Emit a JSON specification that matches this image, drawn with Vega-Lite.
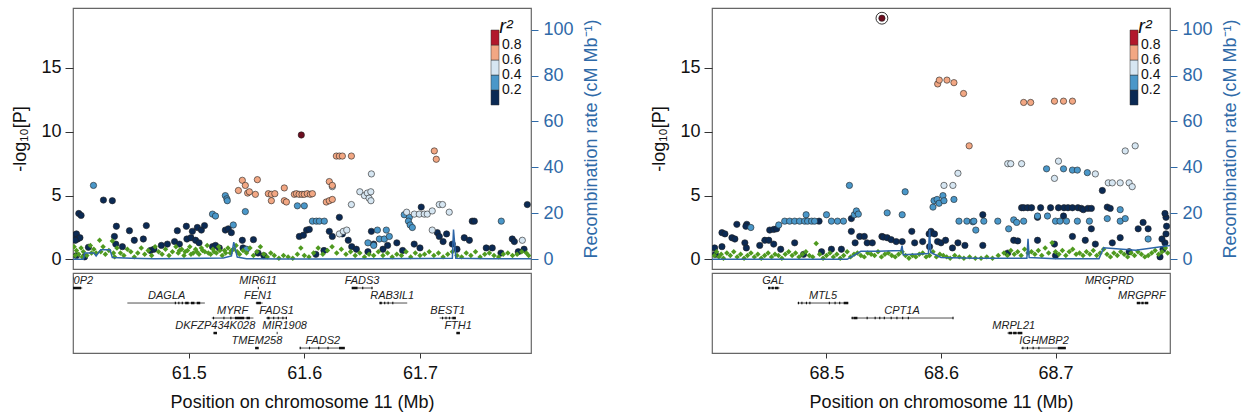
{
"$schema": "https://vega.github.io/schema/vega-lite/v6.json",
"padding": {"left": 11, "top": 7, "right": 5, "bottom": 5},
"config": {
  "font": "Liberation Sans",
  "view": {"stroke": "#666", "strokeWidth": 1.2},
  "axis": {"labelFont": "Liberation Sans", "titleFont": "Liberation Sans", "labelFontSize": 18, "titleFontSize": 18, "titleFontWeight": "normal", "grid": false, "labelColor": "#111", "titleColor": "#111", "tickColor": "#333", "domain": false}
},
"datasets": {
"ptsL": [
{"pos":61.401,"logp":1.9,"r2":0.1},{"pos":61.403,"logp":2.0,"r2":0.1},{"pos":61.404,"logp":1.6,"r2":0.1},{"pos":61.406,"logp":1.7,"r2":0.1},{"pos":61.402,"logp":1.5,"r2":0.1},{"pos":61.405,"logp":3.6,"r2":0.1},{"pos":61.407,"logp":3.45,"r2":0.1},{"pos":61.41,"logp":0.2,"r2":0.1},{"pos":61.4133,"logp":0.95,"r2":0.1},{"pos":61.403,"logp":0.3,"r2":0.1},{"pos":61.4263,"logp":4.65,"r2":0.1},{"pos":61.434,"logp":4.6,"r2":0.1},{"pos":61.4375,"logp":2.6,"r2":0.1},{"pos":61.4358,"logp":1.8,"r2":0.1},{"pos":61.437,"logp":1.2,"r2":0.1},{"pos":61.4427,"logp":1.0,"r2":0.1},{"pos":61.4488,"logp":2.25,"r2":0.1},{"pos":61.453,"logp":1.5,"r2":0.1},{"pos":61.4634,"logp":2.65,"r2":0.1},{"pos":61.4608,"logp":1.6,"r2":0.1},{"pos":61.467,"logp":0.7,"r2":0.1},{"pos":61.47,"logp":0.8,"r2":0.1},{"pos":61.4764,"logp":1.1,"r2":0.1},{"pos":61.4816,"logp":1.2,"r2":0.1},{"pos":61.4902,"logp":2.25,"r2":0.1},{"pos":61.498,"logp":2.6,"r2":0.1},{"pos":61.5032,"logp":2.2,"r2":0.1},{"pos":61.5075,"logp":2.5,"r2":0.1},{"pos":61.511,"logp":2.3,"r2":0.1},{"pos":61.5137,"logp":2.65,"r2":0.1},{"pos":61.4878,"logp":1.4,"r2":0.1},{"pos":61.492,"logp":1.2,"r2":0.1},{"pos":61.4985,"logp":1.6,"r2":0.1},{"pos":61.502,"logp":1.7,"r2":0.1},{"pos":61.506,"logp":1.5,"r2":0.1},{"pos":61.509,"logp":1.3,"r2":0.1},{"pos":61.5206,"logp":1.0,"r2":0.1},{"pos":61.5232,"logp":1.1,"r2":0.1},{"pos":61.5265,"logp":0.9,"r2":0.1},{"pos":61.5317,"logp":2.3,"r2":0.1},{"pos":61.5343,"logp":2.4,"r2":0.1},{"pos":61.5369,"logp":2.1,"r2":0.1},{"pos":61.5464,"logp":1.5,"r2":0.1},{"pos":61.547,"logp":0.9,"r2":0.1},{"pos":61.556,"logp":1.55,"r2":0.1},{"pos":61.56,"logp":0.5,"r2":0.1},{"pos":61.565,"logp":0.3,"r2":0.1},{"pos":61.5957,"logp":1.8,"r2":0.1},{"pos":61.5992,"logp":1.9,"r2":0.1},{"pos":61.602,"logp":2.3,"r2":0.1},{"pos":61.6043,"logp":2.35,"r2":0.1},{"pos":61.6216,"logp":2.2,"r2":0.1},{"pos":61.6242,"logp":1.8,"r2":0.1},{"pos":61.6303,"logp":3.3,"r2":0.1},{"pos":61.6329,"logp":2.0,"r2":0.1},{"pos":61.638,"logp":1.5,"r2":0.1},{"pos":61.641,"logp":1.0,"r2":0.1},{"pos":61.645,"logp":0.8,"r2":0.1},{"pos":61.658,"logp":2.2,"r2":0.1},{"pos":61.66,"logp":1.2,"r2":0.1},{"pos":61.655,"logp":0.6,"r2":0.1},{"pos":61.668,"logp":0.8,"r2":0.1},{"pos":61.672,"logp":1.1,"r2":0.1},{"pos":61.68,"logp":1.3,"r2":0.1},{"pos":61.685,"logp":0.7,"r2":0.1},{"pos":61.7011,"logp":4.1,"r2":0.1},{"pos":61.695,"logp":1.2,"r2":0.1},{"pos":61.7,"logp":0.9,"r2":0.1},{"pos":61.715,"logp":2.1,"r2":0.1},{"pos":61.7167,"logp":1.8,"r2":0.1},{"pos":61.72,"logp":1.4,"r2":0.1},{"pos":61.723,"logp":2.0,"r2":0.1},{"pos":61.728,"logp":1.2,"r2":0.1},{"pos":61.732,"logp":0.8,"r2":0.1},{"pos":61.7383,"logp":1.7,"r2":0.1},{"pos":61.7427,"logp":1.5,"r2":0.1},{"pos":61.7452,"logp":3.0,"r2":0.1},{"pos":61.747,"logp":3.0,"r2":0.1},{"pos":61.7573,"logp":0.9,"r2":0.1},{"pos":61.7625,"logp":0.9,"r2":0.1},{"pos":61.7798,"logp":1.6,"r2":0.1},{"pos":61.7816,"logp":1.4,"r2":0.1},{"pos":61.7928,"logp":4.3,"r2":0.1},{"pos":61.77,"logp":0.5,"r2":0.1},{"pos":61.785,"logp":0.6,"r2":0.1},{"pos":61.79,"logp":0.8,"r2":0.1},{"pos":61.61,"logp":0.4,"r2":0.1},{"pos":61.617,"logp":0.7,"r2":0.1},
{"pos":61.4177,"logp":5.8,"r2":0.3},{"pos":61.5206,"logp":3.55,"r2":0.3},{"pos":61.5232,"logp":3.4,"r2":0.3},{"pos":61.5317,"logp":5.0,"r2":0.3},{"pos":61.533,"logp":4.75,"r2":0.3},{"pos":61.5334,"logp":4.6,"r2":0.3},{"pos":61.5386,"logp":2.7,"r2":0.3},{"pos":61.549,"logp":3.75,"r2":0.3},{"pos":61.55,"logp":0.8,"r2":0.3},{"pos":61.594,"logp":4.2,"r2":0.3},{"pos":61.6,"logp":4.2,"r2":0.3},{"pos":61.607,"logp":3.0,"r2":0.3},{"pos":61.6104,"logp":3.0,"r2":0.3},{"pos":61.613,"logp":3.0,"r2":0.3},{"pos":61.6173,"logp":3.0,"r2":0.3},{"pos":61.6632,"logp":2.3,"r2":0.3},{"pos":61.6709,"logp":2.3,"r2":0.3},{"pos":61.6649,"logp":1.6,"r2":0.3},{"pos":61.6692,"logp":1.6,"r2":0.3},{"pos":61.6735,"logp":1.8,"r2":0.3},{"pos":61.6864,"logp":3.5,"r2":0.3},{"pos":61.6908,"logp":3.3,"r2":0.3},{"pos":61.69,"logp":3.0,"r2":0.3},{"pos":61.6915,"logp":2.7,"r2":0.3},{"pos":61.6934,"logp":2.5,"r2":0.3},{"pos":61.7703,"logp":3.0,"r2":0.3},{"pos":61.655,"logp":1.3,"r2":0.3},{"pos":61.66,"logp":1.1,"r2":0.3},
{"pos":61.6242,"logp":5.7,"r2":0.5},{"pos":61.6407,"logp":4.3,"r2":0.5},{"pos":61.658,"logp":6.7,"r2":0.5},{"pos":61.648,"logp":5.3,"r2":0.5},{"pos":61.652,"logp":5.0,"r2":0.5},{"pos":61.6545,"logp":5.2,"r2":0.5},{"pos":61.656,"logp":4.8,"r2":0.5},{"pos":61.6576,"logp":4.6,"r2":0.5},{"pos":61.6575,"logp":5.3,"r2":0.5},{"pos":61.6303,"logp":2.0,"r2":0.5},{"pos":61.6337,"logp":2.2,"r2":0.5},{"pos":61.6367,"logp":2.3,"r2":0.5},{"pos":61.6885,"logp":3.7,"r2":0.5},{"pos":61.6951,"logp":3.55,"r2":0.5},{"pos":61.6994,"logp":3.55,"r2":0.5},{"pos":61.7037,"logp":3.55,"r2":0.5},{"pos":61.7063,"logp":3.55,"r2":0.5},{"pos":61.7106,"logp":3.8,"r2":0.5},{"pos":61.7167,"logp":4.3,"r2":0.5},{"pos":61.7195,"logp":4.3,"r2":0.5},{"pos":61.7253,"logp":3.7,"r2":0.5},{"pos":61.7106,"logp":2.3,"r2":0.5},{"pos":61.7885,"logp":1.5,"r2":0.5},
{"pos":61.543,"logp":5.4,"r2":0.7},{"pos":61.5464,"logp":6.2,"r2":0.7},{"pos":61.549,"logp":5.8,"r2":0.7},{"pos":61.551,"logp":5.2,"r2":0.7},{"pos":61.5525,"logp":5.3,"r2":0.7},{"pos":61.5577,"logp":5.1,"r2":0.7},{"pos":61.5594,"logp":6.25,"r2":0.7},{"pos":61.5689,"logp":5.15,"r2":0.7},{"pos":61.5715,"logp":5.1,"r2":0.7},{"pos":61.5745,"logp":5.15,"r2":0.7},{"pos":61.5715,"logp":4.6,"r2":0.7},{"pos":61.5827,"logp":4.6,"r2":0.7},{"pos":61.5845,"logp":4.5,"r2":0.7},{"pos":61.5827,"logp":5.6,"r2":0.7},{"pos":61.5914,"logp":5.1,"r2":0.7},{"pos":61.5932,"logp":5.15,"r2":0.7},{"pos":61.5955,"logp":5.1,"r2":0.7},{"pos":61.598,"logp":5.1,"r2":0.7},{"pos":61.6,"logp":5.1,"r2":0.7},{"pos":61.6026,"logp":5.15,"r2":0.7},{"pos":61.6052,"logp":5.1,"r2":0.7},{"pos":61.607,"logp":5.15,"r2":0.7},{"pos":61.6277,"logp":8.1,"r2":0.7},{"pos":61.6303,"logp":8.1,"r2":0.7},{"pos":61.6329,"logp":8.1,"r2":0.7},{"pos":61.6407,"logp":8.1,"r2":0.7},{"pos":61.6216,"logp":6.1,"r2":0.7},{"pos":61.6242,"logp":5.8,"r2":0.7},{"pos":61.619,"logp":4.5,"r2":0.7},{"pos":61.6216,"logp":4.6,"r2":0.7},{"pos":61.6242,"logp":4.7,"r2":0.7},{"pos":61.7124,"logp":8.5,"r2":0.7},{"pos":61.7141,"logp":7.85,"r2":0.7}
],
"leadL": [{"pos":61.5974,"logp":9.75}],
"diaL": [
{"pos":61.401,"logp":1.0},{"pos":61.402,"logp":0.3},{"pos":61.403,"logp":0.7},{"pos":61.405,"logp":0.4},{"pos":61.407,"logp":0.9},{"pos":61.408,"logp":0.2},{"pos":61.409,"logp":0.6},{"pos":61.412,"logp":0.3},{"pos":61.415,"logp":1.1},{"pos":61.416,"logp":0.5},{"pos":61.418,"logp":0.8},{"pos":61.42,"logp":0.5},{"pos":61.423,"logp":1.5},{"pos":61.424,"logp":0.6},{"pos":61.426,"logp":1.0},{"pos":61.428,"logp":0.4},{"pos":61.431,"logp":0.7},{"pos":61.434,"logp":1.45},{"pos":61.435,"logp":0.5},{"pos":61.436,"logp":0.2},{"pos":61.438,"logp":0.9},{"pos":61.441,"logp":0.5},{"pos":61.444,"logp":0.3},{"pos":61.447,"logp":0.8},{"pos":61.45,"logp":0.6},{"pos":61.453,"logp":0.2},{"pos":61.456,"logp":0.5},{"pos":61.459,"logp":0.9},{"pos":61.462,"logp":0.4},{"pos":61.465,"logp":0.7},{"pos":61.468,"logp":0.3},{"pos":61.471,"logp":1.0},{"pos":61.474,"logp":0.6},{"pos":61.477,"logp":0.4},{"pos":61.48,"logp":0.8},{"pos":61.483,"logp":0.3},{"pos":61.486,"logp":0.6},{"pos":61.489,"logp":1.0},{"pos":61.491,"logp":0.5},{"pos":61.492,"logp":0.7},{"pos":61.494,"logp":0.8},{"pos":61.496,"logp":0.3},{"pos":61.497,"logp":0.6},{"pos":61.499,"logp":0.7},{"pos":61.501,"logp":1.0},{"pos":61.502,"logp":0.4},{"pos":61.504,"logp":0.5},{"pos":61.506,"logp":0.8},{"pos":61.507,"logp":0.6},{"pos":61.509,"logp":0.4},{"pos":61.511,"logp":0.9},{"pos":61.512,"logp":0.7},{"pos":61.514,"logp":0.6},{"pos":61.516,"logp":1.1},{"pos":61.517,"logp":0.5},{"pos":61.519,"logp":0.4},{"pos":61.521,"logp":0.8},{"pos":61.522,"logp":0.6},{"pos":61.524,"logp":0.5},{"pos":61.526,"logp":1.0},{"pos":61.527,"logp":0.7},{"pos":61.529,"logp":0.3},{"pos":61.531,"logp":0.7},{"pos":61.532,"logp":0.5},{"pos":61.534,"logp":0.9},{"pos":61.536,"logp":0.5},{"pos":61.537,"logp":0.7},{"pos":61.539,"logp":0.8},{"pos":61.541,"logp":1.1},{"pos":61.542,"logp":0.6},{"pos":61.544,"logp":0.4},{"pos":61.547,"logp":0.7},{"pos":61.55,"logp":0.5},{"pos":61.553,"logp":0.9},{"pos":61.556,"logp":0.3},{"pos":61.559,"logp":0.6},{"pos":61.562,"logp":1.0},{"pos":61.565,"logp":0.4},{"pos":61.568,"logp":0.2},{"pos":61.571,"logp":0.5},{"pos":61.574,"logp":0.3},{"pos":61.578,"logp":0.1},{"pos":61.582,"logp":0.3},{"pos":61.586,"logp":0.2},{"pos":61.59,"logp":0.1},{"pos":61.594,"logp":0.4},{"pos":61.597,"logp":0.9},{"pos":61.6,"logp":0.3},{"pos":61.604,"logp":0.2},{"pos":61.608,"logp":0.5},{"pos":61.612,"logp":0.9},{"pos":61.616,"logp":0.4},{"pos":61.62,"logp":0.7},{"pos":61.624,"logp":1.0},{"pos":61.628,"logp":0.5},{"pos":61.632,"logp":0.8},{"pos":61.636,"logp":0.4},{"pos":61.64,"logp":0.6},{"pos":61.644,"logp":0.3},{"pos":61.648,"logp":0.5},{"pos":61.652,"logp":0.2},{"pos":61.656,"logp":0.4},{"pos":61.66,"logp":0.3},{"pos":61.664,"logp":0.6},{"pos":61.668,"logp":0.3},{"pos":61.672,"logp":0.5},{"pos":61.676,"logp":0.2},{"pos":61.68,"logp":0.4},{"pos":61.684,"logp":0.3},{"pos":61.688,"logp":0.6},{"pos":61.692,"logp":0.2},{"pos":61.696,"logp":0.5},{"pos":61.7,"logp":0.3},{"pos":61.704,"logp":0.4},{"pos":61.708,"logp":0.6},{"pos":61.712,"logp":0.3},{"pos":61.716,"logp":0.5},{"pos":61.72,"logp":0.2},{"pos":61.724,"logp":0.4},{"pos":61.728,"logp":0.6},{"pos":61.732,"logp":0.3},{"pos":61.736,"logp":0.2},{"pos":61.74,"logp":0.5},{"pos":61.744,"logp":0.3},{"pos":61.748,"logp":0.6},{"pos":61.752,"logp":0.2},{"pos":61.756,"logp":0.4},{"pos":61.76,"logp":0.5},{"pos":61.764,"logp":0.3},{"pos":61.768,"logp":0.2},{"pos":61.772,"logp":0.4},{"pos":61.776,"logp":0.5},{"pos":61.78,"logp":0.3},{"pos":61.784,"logp":0.4},{"pos":61.788,"logp":0.6},{"pos":61.792,"logp":0.5},{"pos":61.794,"logp":0.3}
],
"recL": [
{"pos":61.4,"rate":0},{"pos":61.409,"rate":0},{"pos":61.41,"rate":2.8},{"pos":61.418,"rate":2.8},{"pos":61.42,"rate":1.5},{"pos":61.424,"rate":4.2},{"pos":61.432,"rate":4.2},{"pos":61.434,"rate":0.8},{"pos":61.45,"rate":0.5},{"pos":61.47,"rate":0.3},{"pos":61.5,"rate":0.4},{"pos":61.53,"rate":0.6},{"pos":61.537,"rate":1.5},{"pos":61.539,"rate":7.5},{"pos":61.542,"rate":1},{"pos":61.55,"rate":0.3},{"pos":61.58,"rate":0.2},{"pos":61.62,"rate":0.2},{"pos":61.66,"rate":0.3},{"pos":61.7,"rate":0.4},{"pos":61.728,"rate":0.5},{"pos":61.729,"rate":13},{"pos":61.731,"rate":0.5},{"pos":61.76,"rate":0.3},{"pos":61.796,"rate":0.3}
],
"genesL": [
{"gene":"RPLP0P2","start":61.39,"end":61.408,"row":1,"lab":61.3965},
{"gene":"MIR611","start":61.5598,"end":61.5606,"row":1,"lab":61.56},
{"gene":"FADS3","start":61.641,"end":61.659,"row":1,"lab":61.65},
{"gene":"DAGLA","start":61.447,"end":61.514,"row":2,"lab":61.481},
{"gene":"FEN1","start":61.558,"end":61.564,"row":2,"lab":61.56},
{"gene":"RAB3IL1","start":61.665,"end":61.689,"row":2,"lab":61.676},
{"gene":"MYRF","start":61.52,"end":61.556,"row":3,"lab":61.538},
{"gene":"FADS1","start":61.567,"end":61.585,"row":3,"lab":61.576},
{"gene":"BEST1","start":61.717,"end":61.731,"row":3,"lab":61.724},
{"gene":"DKFZP434K028","start":61.5215,"end":61.5245,"row":4,"lab":61.523},
{"gene":"MIR1908","start":61.5762,"end":61.5768,"row":4,"lab":61.583},
{"gene":"FTH1","start":61.7315,"end":61.7345,"row":4,"lab":61.733},
{"gene":"TMEM258","start":61.5575,"end":61.5605,"row":5,"lab":61.559},
{"gene":"FADS2","start":61.596,"end":61.635,"row":5,"lab":61.616}
],
"exL": [
{"start":61.399,"end":61.407,"row":1},{"start":61.5598,"end":61.5606,"row":1},{"start":61.641,"end":61.646,"row":1},{"start":61.65,"end":61.651,"row":1},{"start":61.658,"end":61.659,"row":1},
{"start":61.488,"end":61.489,"row":2},{"start":61.491,"end":61.492,"row":2},{"start":61.494,"end":61.495,"row":2},{"start":61.497,"end":61.5,"row":2},{"start":61.502,"end":61.505,"row":2},{"start":61.507,"end":61.51,"row":2},{"start":61.5585,"end":61.5625,"row":2},{"start":61.665,"end":61.667,"row":2},{"start":61.669,"end":61.67,"row":2},{"start":61.672,"end":61.673,"row":2},{"start":61.676,"end":61.677,"row":2},
{"start":61.521,"end":61.522,"row":3},{"start":61.53,"end":61.531,"row":3},{"start":61.536,"end":61.537,"row":3},{"start":61.54,"end":61.548,"row":3},{"start":61.55,"end":61.553,"row":3},{"start":61.568,"end":61.57,"row":3},{"start":61.573,"end":61.574,"row":3},{"start":61.577,"end":61.578,"row":3},{"start":61.581,"end":61.582,"row":3},{"start":61.584,"end":61.585,"row":3},{"start":61.719,"end":61.72,"row":3},{"start":61.722,"end":61.723,"row":3},{"start":61.725,"end":61.726,"row":3},{"start":61.728,"end":61.731,"row":3},
{"start":61.5215,"end":61.5245,"row":4},{"start":61.5762,"end":61.5768,"row":4},{"start":61.7315,"end":61.7345,"row":4},
{"start":61.5575,"end":61.5605,"row":5},{"start":61.596,"end":61.597,"row":5},{"start":61.604,"end":61.605,"row":5},{"start":61.612,"end":61.613,"row":5},{"start":61.62,"end":61.621,"row":5},{"start":61.63,"end":61.635,"row":5}
],
"ptsR": [
{"pos":68.4023,"logp":0.9,"r2":0.1},{"pos":68.403,"logp":0.4,"r2":0.1},{"pos":68.4087,"logp":2.1,"r2":0.1},{"pos":68.4113,"logp":2.0,"r2":0.1},{"pos":68.4087,"logp":1.0,"r2":0.1},{"pos":68.4174,"logp":1.7,"r2":0.1},{"pos":68.42,"logp":1.6,"r2":0.1},{"pos":68.4217,"logp":2.75,"r2":0.1},{"pos":68.4304,"logp":2.75,"r2":0.1},{"pos":68.4296,"logp":2.6,"r2":0.1},{"pos":68.4287,"logp":1.3,"r2":0.1},{"pos":68.43,"logp":0.9,"r2":0.1},{"pos":68.4417,"logp":1.1,"r2":0.1},{"pos":68.4461,"logp":1.5,"r2":0.1},{"pos":68.4496,"logp":1.5,"r2":0.1},{"pos":68.4539,"logp":1.2,"r2":0.1},{"pos":68.4504,"logp":2.3,"r2":0.1},{"pos":68.4539,"logp":2.35,"r2":0.1},{"pos":68.4565,"logp":2.4,"r2":0.1},{"pos":68.46,"logp":0.8,"r2":0.1},{"pos":68.4722,"logp":1.3,"r2":0.1},{"pos":68.48,"logp":0.4,"r2":0.1},{"pos":68.4935,"logp":3.0,"r2":0.1},{"pos":68.4957,"logp":0.6,"r2":0.1},{"pos":68.5043,"logp":0.8,"r2":0.1},{"pos":68.513,"logp":0.8,"r2":0.1},{"pos":68.5217,"logp":3.2,"r2":0.1},{"pos":68.5217,"logp":2.2,"r2":0.1},{"pos":68.529,"logp":1.8,"r2":0.1},{"pos":68.533,"logp":1.8,"r2":0.1},{"pos":68.5355,"logp":1.3,"r2":0.1},{"pos":68.54,"logp":1.3,"r2":0.1},{"pos":68.525,"logp":1.3,"r2":0.1},{"pos":68.5484,"logp":1.8,"r2":0.1},{"pos":68.5496,"logp":1.75,"r2":0.1},{"pos":68.553,"logp":1.7,"r2":0.1},{"pos":68.5565,"logp":1.55,"r2":0.1},{"pos":68.5609,"logp":1.4,"r2":0.1},{"pos":68.5661,"logp":1.4,"r2":0.1},{"pos":68.5745,"logp":2.2,"r2":0.1},{"pos":68.577,"logp":1.3,"r2":0.1},{"pos":68.584,"logp":1.4,"r2":0.1},{"pos":68.5896,"logp":2.0,"r2":0.1},{"pos":68.5913,"logp":2.2,"r2":0.1},{"pos":68.5943,"logp":2.0,"r2":0.1},{"pos":68.59,"logp":1.0,"r2":0.1},{"pos":68.597,"logp":1.4,"r2":0.1},{"pos":68.6,"logp":1.3,"r2":0.1},{"pos":68.604,"logp":1.5,"r2":0.1},{"pos":68.61,"logp":0.9,"r2":0.1},{"pos":68.6148,"logp":1.3,"r2":0.1},{"pos":68.6209,"logp":1.1,"r2":0.1},{"pos":68.6365,"logp":1.1,"r2":0.1},{"pos":68.6365,"logp":3.5,"r2":0.1},{"pos":68.6635,"logp":1.5,"r2":0.1},{"pos":68.667,"logp":1.45,"r2":0.1},{"pos":68.6704,"logp":4.05,"r2":0.1},{"pos":68.6722,"logp":4.05,"r2":0.1},{"pos":68.6757,"logp":4.05,"r2":0.1},{"pos":68.6791,"logp":4.05,"r2":0.1},{"pos":68.6843,"logp":3.3,"r2":0.1},{"pos":68.687,"logp":4.05,"r2":0.1},{"pos":68.6843,"logp":1.5,"r2":0.1},{"pos":68.6957,"logp":4.05,"r2":0.1},{"pos":68.6991,"logp":1.2,"r2":0.1},{"pos":68.7026,"logp":4.05,"r2":0.1},{"pos":68.707,"logp":3.4,"r2":0.1},{"pos":68.7074,"logp":4.05,"r2":0.1},{"pos":68.7109,"logp":4.05,"r2":0.1},{"pos":68.7148,"logp":4.05,"r2":0.1},{"pos":68.7148,"logp":1.8,"r2":0.1},{"pos":68.7196,"logp":4.05,"r2":0.1},{"pos":68.7226,"logp":4.0,"r2":0.1},{"pos":68.7243,"logp":3.9,"r2":0.1},{"pos":68.726,"logp":1.5,"r2":0.1},{"pos":68.7283,"logp":4.0,"r2":0.1},{"pos":68.7313,"logp":4.0,"r2":0.1},{"pos":68.7313,"logp":2.4,"r2":0.1},{"pos":68.7348,"logp":1.2,"r2":0.1},{"pos":68.7409,"logp":5.4,"r2":0.1},{"pos":68.7452,"logp":4.1,"r2":0.1},{"pos":68.7478,"logp":4.0,"r2":0.1},{"pos":68.7496,"logp":1.3,"r2":0.1},{"pos":68.7565,"logp":1.7,"r2":0.1},{"pos":68.7643,"logp":0.6,"r2":0.1},{"pos":68.7722,"logp":2.4,"r2":0.1},{"pos":68.7765,"logp":2.9,"r2":0.1},{"pos":68.7809,"logp":2.4,"r2":0.1},{"pos":68.7913,"logp":0.2,"r2":0.1},{"pos":68.7939,"logp":0.8,"r2":0.1},{"pos":68.7956,"logp":1.3,"r2":0.1},{"pos":68.7965,"logp":2.0,"r2":0.1},{"pos":68.797,"logp":2.6,"r2":0.1},{"pos":68.7965,"logp":3.3,"r2":0.1},{"pos":68.7956,"logp":3.6,"r2":0.1},{"pos":68.793,"logp":1.6,"r2":0.1},{"pos":68.6583,"logp":0.5,"r2":0.1},{"pos":68.7,"logp":0.3,"r2":0.1},
{"pos":68.4339,"logp":2.5,"r2":0.3},{"pos":68.4583,"logp":2.7,"r2":0.3},{"pos":68.4635,"logp":3.0,"r2":0.3},{"pos":68.4678,"logp":3.0,"r2":0.3},{"pos":68.4722,"logp":3.0,"r2":0.3},{"pos":68.4765,"logp":3.0,"r2":0.3},{"pos":68.4809,"logp":3.0,"r2":0.3},{"pos":68.4822,"logp":3.5,"r2":0.3},{"pos":68.4835,"logp":3.0,"r2":0.3},{"pos":68.487,"logp":3.0,"r2":0.3},{"pos":68.4896,"logp":3.0,"r2":0.3},{"pos":68.5,"logp":3.5,"r2":0.3},{"pos":68.5043,"logp":3.0,"r2":0.3},{"pos":68.5096,"logp":3.0,"r2":0.3},{"pos":68.5148,"logp":3.0,"r2":0.3},{"pos":68.52,"logp":5.8,"r2":0.3},{"pos":68.5243,"logp":3.5,"r2":0.3},{"pos":68.5261,"logp":3.8,"r2":0.3},{"pos":68.5278,"logp":3.55,"r2":0.3},{"pos":68.553,"logp":3.65,"r2":0.3},{"pos":68.5661,"logp":3.5,"r2":0.3},{"pos":68.5687,"logp":5.3,"r2":0.3},{"pos":68.593,"logp":4.1,"r2":0.3},{"pos":68.5939,"logp":4.6,"r2":0.3},{"pos":68.5966,"logp":4.7,"r2":0.3},{"pos":68.6017,"logp":5.0,"r2":0.3},{"pos":68.5983,"logp":4.4,"r2":0.3},{"pos":68.6026,"logp":4.6,"r2":0.3},{"pos":68.6113,"logp":4.7,"r2":0.3},{"pos":68.6157,"logp":3.0,"r2":0.3},{"pos":68.6226,"logp":3.0,"r2":0.3},{"pos":68.6278,"logp":2.95,"r2":0.3},{"pos":68.6287,"logp":3.0,"r2":0.3},{"pos":68.6304,"logp":2.3,"r2":0.3},{"pos":68.6374,"logp":3.0,"r2":0.3},{"pos":68.6496,"logp":3.0,"r2":0.3},{"pos":68.6591,"logp":2.4,"r2":0.3},{"pos":68.6635,"logp":3.1,"r2":0.3},{"pos":68.6661,"logp":2.9,"r2":0.3},{"pos":68.6722,"logp":3.0,"r2":0.3},{"pos":68.6843,"logp":3.4,"r2":0.3},{"pos":68.693,"logp":3.4,"r2":0.3},{"pos":68.6922,"logp":7.1,"r2":0.3},{"pos":68.7,"logp":3.0,"r2":0.3},{"pos":68.7039,"logp":3.0,"r2":0.3},{"pos":68.707,"logp":7.1,"r2":0.3},{"pos":68.7096,"logp":3.0,"r2":0.3},{"pos":68.7148,"logp":7.0,"r2":0.3},{"pos":68.7191,"logp":3.0,"r2":0.3},{"pos":68.7191,"logp":7.0,"r2":0.3},{"pos":68.7278,"logp":6.8,"r2":0.3},{"pos":68.7296,"logp":3.0,"r2":0.3},{"pos":68.7452,"logp":3.2,"r2":0.3},{"pos":68.7565,"logp":3.0,"r2":0.3},{"pos":68.7565,"logp":3.9,"r2":0.3},{"pos":68.7609,"logp":3.2,"r2":0.3},{"pos":68.7809,"logp":1.6,"r2":0.3},
{"pos":68.6026,"logp":5.8,"r2":0.5},{"pos":68.6104,"logp":5.8,"r2":0.5},{"pos":68.6148,"logp":6.75,"r2":0.5},{"pos":68.6583,"logp":7.5,"r2":0.5},{"pos":68.6609,"logp":7.5,"r2":0.5},{"pos":68.6704,"logp":7.5,"r2":0.5},{"pos":68.6991,"logp":6.35,"r2":0.5},{"pos":68.7026,"logp":7.7,"r2":0.5},{"pos":68.7348,"logp":6.7,"r2":0.5},{"pos":68.7461,"logp":6.0,"r2":0.5},{"pos":68.7496,"logp":6.0,"r2":0.5},{"pos":68.7565,"logp":6.0,"r2":0.5},{"pos":68.7643,"logp":6.0,"r2":0.5},{"pos":68.767,"logp":5.7,"r2":0.5},{"pos":68.7609,"logp":8.5,"r2":0.5},{"pos":68.7696,"logp":8.9,"r2":0.5},
{"pos":68.5971,"logp":13.75,"r2":0.7},{"pos":68.5985,"logp":14.05,"r2":0.7},{"pos":68.6052,"logp":14.05,"r2":0.7},{"pos":68.6113,"logp":13.85,"r2":0.7},{"pos":68.6197,"logp":13.0,"r2":0.7},{"pos":68.6246,"logp":8.9,"r2":0.7},{"pos":68.6722,"logp":12.3,"r2":0.7},{"pos":68.6783,"logp":12.3,"r2":0.7},{"pos":68.6991,"logp":12.4,"r2":0.7},{"pos":68.707,"logp":12.4,"r2":0.7},{"pos":68.7148,"logp":12.4,"r2":0.7}
],
"leadR": [{"pos":68.5484,"logp":18.9}],
"diaR": [
{"pos":68.402,"logp":0.3},{"pos":68.404,"logp":0.6},{"pos":68.406,"logp":0.2},{"pos":68.408,"logp":0.4},{"pos":68.41,"logp":0.1},{"pos":68.413,"logp":0.5},{"pos":68.416,"logp":0.3},{"pos":68.419,"logp":0.6},{"pos":68.422,"logp":0.2},{"pos":68.425,"logp":0.4},{"pos":68.428,"logp":0.1},{"pos":68.431,"logp":0.3},{"pos":68.434,"logp":0.5},{"pos":68.437,"logp":0.2},{"pos":68.44,"logp":0.4},{"pos":68.443,"logp":0.1},{"pos":68.446,"logp":0.3},{"pos":68.449,"logp":0.5},{"pos":68.452,"logp":0.2},{"pos":68.455,"logp":0.4},{"pos":68.458,"logp":0.3},{"pos":68.461,"logp":0.1},{"pos":68.464,"logp":0.4},{"pos":68.467,"logp":0.6},{"pos":68.47,"logp":0.3},{"pos":68.473,"logp":0.5},{"pos":68.476,"logp":0.2},{"pos":68.479,"logp":0.4},{"pos":68.482,"logp":0.6},{"pos":68.485,"logp":0.3},{"pos":68.488,"logp":0.2},{"pos":68.491,"logp":1.25},{"pos":68.494,"logp":0.4},{"pos":68.497,"logp":0.1},{"pos":68.5,"logp":0.3},{"pos":68.503,"logp":0.5},{"pos":68.506,"logp":0.2},{"pos":68.509,"logp":0.4},{"pos":68.512,"logp":0.1},{"pos":68.515,"logp":0.3},{"pos":68.518,"logp":0.6},{"pos":68.521,"logp":0.2},{"pos":68.524,"logp":0.4},{"pos":68.527,"logp":0.5},{"pos":68.53,"logp":0.3},{"pos":68.533,"logp":0.2},{"pos":68.536,"logp":0.5},{"pos":68.539,"logp":0.4},{"pos":68.542,"logp":0.3},{"pos":68.545,"logp":0.6},{"pos":68.548,"logp":0.2},{"pos":68.551,"logp":0.4},{"pos":68.554,"logp":0.5},{"pos":68.557,"logp":0.3},{"pos":68.56,"logp":0.2},{"pos":68.563,"logp":0.4},{"pos":68.566,"logp":0.6},{"pos":68.569,"logp":0.3},{"pos":68.572,"logp":0.1},{"pos":68.575,"logp":0.3},{"pos":68.578,"logp":0.2},{"pos":68.581,"logp":0.4},{"pos":68.584,"logp":0.5},{"pos":68.587,"logp":0.2},{"pos":68.59,"logp":0.3},{"pos":68.593,"logp":0.6},{"pos":68.596,"logp":0.2},{"pos":68.599,"logp":0.4},{"pos":68.602,"logp":0.3},{"pos":68.605,"logp":0.2},{"pos":68.608,"logp":0.1},{"pos":68.612,"logp":0.3},{"pos":68.616,"logp":0.2},{"pos":68.62,"logp":0.1},{"pos":68.625,"logp":0.2},{"pos":68.63,"logp":0.1},{"pos":68.635,"logp":0.1},{"pos":68.64,"logp":0.2},{"pos":68.645,"logp":0.1},{"pos":68.65,"logp":0.3},{"pos":68.655,"logp":0.5},{"pos":68.658,"logp":0.3},{"pos":68.661,"logp":0.7},{"pos":68.664,"logp":0.4},{"pos":68.667,"logp":0.6},{"pos":68.67,"logp":0.3},{"pos":68.673,"logp":0.8},{"pos":68.676,"logp":0.5},{"pos":68.679,"logp":0.6},{"pos":68.682,"logp":0.4},{"pos":68.685,"logp":0.7},{"pos":68.688,"logp":0.3},{"pos":68.691,"logp":0.9},{"pos":68.694,"logp":0.5},{"pos":68.697,"logp":1.3},{"pos":68.7,"logp":0.6},{"pos":68.703,"logp":0.4},{"pos":68.706,"logp":0.7},{"pos":68.709,"logp":0.3},{"pos":68.712,"logp":0.6},{"pos":68.715,"logp":0.8},{"pos":68.718,"logp":0.4},{"pos":68.721,"logp":0.5},{"pos":68.724,"logp":0.3},{"pos":68.727,"logp":0.6},{"pos":68.73,"logp":0.4},{"pos":68.733,"logp":0.7},{"pos":68.736,"logp":0.3},{"pos":68.739,"logp":0.5},{"pos":68.742,"logp":0.8},{"pos":68.745,"logp":0.4},{"pos":68.748,"logp":0.2},{"pos":68.751,"logp":0.5},{"pos":68.754,"logp":0.3},{"pos":68.757,"logp":0.6},{"pos":68.76,"logp":0.4},{"pos":68.763,"logp":0.2},{"pos":68.766,"logp":0.5},{"pos":68.769,"logp":0.3},{"pos":68.772,"logp":0.6},{"pos":68.775,"logp":0.4},{"pos":68.778,"logp":0.2},{"pos":68.781,"logp":0.3},{"pos":68.784,"logp":0.5},{"pos":68.787,"logp":0.7},{"pos":68.79,"logp":0.4},{"pos":68.793,"logp":0.6},{"pos":68.796,"logp":0.9},{"pos":68.798,"logp":0.5}
],
"recR": [
{"pos":68.4,"rate":0},{"pos":68.45,"rate":0},{"pos":68.518,"rate":0},{"pos":68.525,"rate":2},{"pos":68.53,"rate":3.5},{"pos":68.545,"rate":3.5},{"pos":68.565,"rate":3.8},{"pos":68.566,"rate":6},{"pos":68.567,"rate":2},{"pos":68.589,"rate":2.5},{"pos":68.59,"rate":13},{"pos":68.591,"rate":3},{"pos":68.6,"rate":0.8},{"pos":68.63,"rate":0.5},{"pos":68.66,"rate":0.5},{"pos":68.675,"rate":0.5},{"pos":68.676,"rate":9},{"pos":68.677,"rate":0.8},{"pos":68.7,"rate":0.3},{"pos":68.738,"rate":0.3},{"pos":68.742,"rate":5},{"pos":68.77,"rate":4},{"pos":68.8,"rate":6}
],
"genesR": [
{"gene":"GAL","start":68.449,"end":68.459,"row":1,"lab":68.4535},
{"gene":"MRGPRD","start":68.7465,"end":68.748,"row":1,"lab":68.747},
{"gene":"MTL5","start":68.4748,"end":68.519,"row":2,"lab":68.497},
{"gene":"MRGPRF","start":68.771,"end":68.781,"row":2,"lab":68.7755},
{"gene":"CPT1A","start":68.5217,"end":68.6104,"row":3,"lab":68.566},
{"gene":"MRPL21","start":68.658,"end":68.671,"row":4,"lab":68.6635},
{"gene":"IGHMBP2","start":68.67,"end":68.709,"row":5,"lab":68.69}
],
"exR": [
{"start":68.449,"end":68.451,"row":1},{"start":68.452,"end":68.454,"row":1},{"start":68.455,"end":68.458,"row":1},{"start":68.7465,"end":68.748,"row":1},
{"start":68.475,"end":68.476,"row":2},{"start":68.478,"end":68.479,"row":2},{"start":68.482,"end":68.483,"row":2},{"start":68.485,"end":68.486,"row":2},{"start":68.502,"end":68.503,"row":2},{"start":68.507,"end":68.508,"row":2},{"start":68.511,"end":68.512,"row":2},{"start":68.515,"end":68.519,"row":2},{"start":68.771,"end":68.774,"row":2},{"start":68.775,"end":68.777,"row":2},{"start":68.778,"end":68.781,"row":2},
{"start":68.522,"end":68.523,"row":3},{"start":68.5235,"end":68.527,"row":3},{"start":68.535,"end":68.536,"row":3},{"start":68.542,"end":68.543,"row":3},{"start":68.546,"end":68.547,"row":3},{"start":68.55,"end":68.551,"row":3},{"start":68.556,"end":68.557,"row":3},{"start":68.561,"end":68.562,"row":3},{"start":68.566,"end":68.567,"row":3},{"start":68.571,"end":68.572,"row":3},{"start":68.61,"end":68.611,"row":3},
{"start":68.659,"end":68.662,"row":4},{"start":68.663,"end":68.666,"row":4},{"start":68.667,"end":68.671,"row":4},
{"start":68.671,"end":68.672,"row":5},{"start":68.675,"end":68.676,"row":5},{"start":68.68,"end":68.681,"row":5},{"start":68.685,"end":68.686,"row":5},{"start":68.702,"end":68.709,"row":5}
]
},
"spacing": 49,
"resolve": {"scale": {"color": "independent"}, "legend": {"color": "independent"}},
"hconcat": [
{
 "spacing": 2,
 "resolve": {"scale": {"color": "independent"}, "legend": {"color": "independent"}},
 "vconcat": [
  {
   "width": 458, "height": 261,
   "resolve": {"scale": {"y": "independent"}},
   "layer": [
    {"layer": [
      {"data": {"name": "ptsL"}, "mark": {"type": "circle", "size": 40, "stroke": "#222", "strokeWidth": 0.6, "opacity": 1, "clip": true},
       "encoding": {
        "x": {"field": "pos", "type": "quantitative", "scale": {"domain": [61.4, 61.796], "nice": false, "zero": false}, "axis": null},
        "y": {"field": "logp", "type": "quantitative", "scale": {"domain": [-0.75, 19.7], "nice": false, "zero": false}, "axis": {"orient": "left", "values": [0, 5, 10, 15], "title": "-log₁₀[P]", "tickSize": 8, "labelPadding": 4, "titlePadding": 11}},
        "color": {"field": "r2", "type": "quantitative", "scale": {"type": "threshold", "domain": [0.2, 0.4, 0.6, 0.8], "range": ["#0b2a54", "#4a97c9", "#d6e6f2", "#f2a783", "#b2182b"]},
          "legend": {"title": "r²", "type": "gradient", "direction": "vertical", "orient": "top-right", "offset": 9, "gradientLength": 75, "gradientThickness": 8, "labelFontSize": 14, "titleFontSize": 20, "titleFontStyle": "italic", "titleFontWeight": "normal", "labelOverlap": false, "titleAnchor": "middle", "titlePadding": -7, "gradientStrokeColor": "#333", "gradientStrokeWidth": 0.5, "labelColor": "#111", "titleColor": "#111", "format": ".1f", "labelOffset": 3, "labelFont": "Liberation Sans", "titleFont": "Liberation Sans"}}
       }},
      {"data": {"name": "diaL"}, "mark": {"type": "point", "shape": "diamond", "filled": true, "size": 30, "color": "#4f9a1f", "opacity": 1, "clip": true},
       "encoding": {"x": {"field": "pos", "type": "quantitative"}, "y": {"field": "logp", "type": "quantitative"}}},
      {"data": {"name": "leadL"}, "mark": {"type": "circle", "size": 40, "color": "#6d0d1f", "stroke": "#222", "strokeWidth": 0.6, "opacity": 1},
       "encoding": {"x": {"field": "pos", "type": "quantitative"}, "y": {"field": "logp", "type": "quantitative"}}}
    ]},
    {"data": {"name": "recL"}, "mark": {"type": "line", "color": "#2e66a8", "strokeWidth": 1.5, "clip": true},
     "encoding": {
      "x": {"field": "pos", "type": "quantitative"},
      "y": {"field": "rate", "type": "quantitative", "scale": {"domain": [-4.2, 109.4], "nice": false, "zero": false}, "axis": {"orient": "right", "values": [0, 20, 40, 60, 80, 100], "title": "Recombination rate (cM Mb⁻¹)", "titleAngle": 270, "titleBaseline": "top", "labelColor": "#2f6aa8", "tickColor": "#2f6aa8", "titleColor": "#2f6aa8", "tickSize": 7, "labelPadding": 5, "titlePadding": 9}}
     }}
   ]
  },
  {
   "width": 458, "height": 80,
   "layer": [
    {"data": {"name": "genesL"}, "mark": {"type": "rule", "color": "#222", "strokeWidth": 0.8, "clip": true},
     "encoding": {
      "x": {"field": "start", "type": "quantitative", "scale": {"domain": [61.4, 61.796], "nice": false, "zero": false}, "axis": {"orient": "bottom", "values": [61.5, 61.6, 61.7], "format": ".1f", "title": "Position on chromosome 11 (Mb)", "tickSize": 5, "labelPadding": 6, "titlePadding": 11}},
      "x2": {"field": "end"},
      "y": {"field": "row", "type": "quantitative", "scale": {"domain": [0, 5.33], "reverse": true, "nice": false, "zero": false}, "axis": null}
     }},
    {"data": {"name": "exL"}, "mark": {"type": "rule", "color": "#111", "strokeWidth": 2.5, "clip": true},
     "encoding": {"x": {"field": "start", "type": "quantitative"}, "x2": {"field": "end"}, "y": {"field": "row", "type": "quantitative"}}},
    {"data": {"name": "genesL"}, "mark": {"type": "text", "fontStyle": "italic", "fontSize": 11, "color": "#222", "baseline": "bottom", "dy": -2, "clip": true, "font": "Liberation Sans"},
     "encoding": {"x": {"field": "lab", "type": "quantitative"}, "y": {"field": "row", "type": "quantitative"}, "text": {"field": "gene"}}}
   ]
  }
 ]
},
{
 "spacing": 2,
 "resolve": {"scale": {"color": "independent"}, "legend": {"color": "independent"}},
 "vconcat": [
  {
   "width": 458, "height": 261,
   "resolve": {"scale": {"y": "independent"}},
   "layer": [
    {"layer": [
      {"data": {"name": "ptsR"}, "mark": {"type": "circle", "size": 40, "stroke": "#222", "strokeWidth": 0.6, "opacity": 1, "clip": true},
       "encoding": {
        "x": {"field": "pos", "type": "quantitative", "scale": {"domain": [68.4, 68.8], "nice": false, "zero": false}, "axis": null},
        "y": {"field": "logp", "type": "quantitative", "scale": {"domain": [-0.75, 19.7], "nice": false, "zero": false}, "axis": {"orient": "left", "values": [0, 5, 10, 15], "title": "-log₁₀[P]", "tickSize": 8, "labelPadding": 4, "titlePadding": 11}},
        "color": {"field": "r2", "type": "quantitative", "scale": {"type": "threshold", "domain": [0.2, 0.4, 0.6, 0.8], "range": ["#0b2a54", "#4a97c9", "#d6e6f2", "#f2a783", "#b2182b"]},
          "legend": {"title": "r²", "type": "gradient", "direction": "vertical", "orient": "top-right", "offset": 9, "gradientLength": 75, "gradientThickness": 8, "labelFontSize": 14, "titleFontSize": 20, "titleFontStyle": "italic", "titleFontWeight": "normal", "labelOverlap": false, "titleAnchor": "middle", "titlePadding": -7, "gradientStrokeColor": "#333", "gradientStrokeWidth": 0.5, "labelColor": "#111", "titleColor": "#111", "format": ".1f", "labelOffset": 3, "labelFont": "Liberation Sans", "titleFont": "Liberation Sans"}}
       }},
      {"data": {"name": "diaR"}, "mark": {"type": "point", "shape": "diamond", "filled": true, "size": 30, "color": "#4f9a1f", "opacity": 1, "clip": true},
       "encoding": {"x": {"field": "pos", "type": "quantitative"}, "y": {"field": "logp", "type": "quantitative"}}},
      {"data": {"name": "leadR"}, "mark": {"type": "circle", "size": 40, "color": "#6d0d1f", "stroke": "#222", "strokeWidth": 0.6, "opacity": 1},
       "encoding": {"x": {"field": "pos", "type": "quantitative"}, "y": {"field": "logp", "type": "quantitative"}}},
      {"data": {"name": "leadR"}, "mark": {"type": "point", "shape": "circle", "filled": false, "size": 140, "stroke": "#333", "strokeWidth": 1, "opacity": 1},
       "encoding": {"x": {"field": "pos", "type": "quantitative"}, "y": {"field": "logp", "type": "quantitative"}}}
    ]},
    {"data": {"name": "recR"}, "mark": {"type": "line", "color": "#2e66a8", "strokeWidth": 1.5, "clip": true},
     "encoding": {
      "x": {"field": "pos", "type": "quantitative"},
      "y": {"field": "rate", "type": "quantitative", "scale": {"domain": [-4.2, 109.4], "nice": false, "zero": false}, "axis": {"orient": "right", "values": [0, 20, 40, 60, 80, 100], "title": "Recombination rate (cM Mb⁻¹)", "titleAngle": 270, "titleBaseline": "top", "labelColor": "#2f6aa8", "tickColor": "#2f6aa8", "titleColor": "#2f6aa8", "tickSize": 7, "labelPadding": 5, "titlePadding": 9}}
     }}
   ]
  },
  {
   "width": 458, "height": 80,
   "layer": [
    {"data": {"name": "genesR"}, "mark": {"type": "rule", "color": "#222", "strokeWidth": 0.8, "clip": true},
     "encoding": {
      "x": {"field": "start", "type": "quantitative", "scale": {"domain": [68.4, 68.8], "nice": false, "zero": false}, "axis": {"orient": "bottom", "values": [68.5, 68.6, 68.7], "format": ".1f", "title": "Position on chromosome 11 (Mb)", "tickSize": 5, "labelPadding": 6, "titlePadding": 11}},
      "x2": {"field": "end"},
      "y": {"field": "row", "type": "quantitative", "scale": {"domain": [0, 5.33], "reverse": true, "nice": false, "zero": false}, "axis": null}
     }},
    {"data": {"name": "exR"}, "mark": {"type": "rule", "color": "#111", "strokeWidth": 2.5, "clip": true},
     "encoding": {"x": {"field": "start", "type": "quantitative"}, "x2": {"field": "end"}, "y": {"field": "row", "type": "quantitative"}}},
    {"data": {"name": "genesR"}, "mark": {"type": "text", "fontStyle": "italic", "fontSize": 11, "color": "#222", "baseline": "bottom", "dy": -2, "clip": true, "font": "Liberation Sans"},
     "encoding": {"x": {"field": "lab", "type": "quantitative"}, "y": {"field": "row", "type": "quantitative"}, "text": {"field": "gene"}}}
   ]
  }
 ]
}
]
}
